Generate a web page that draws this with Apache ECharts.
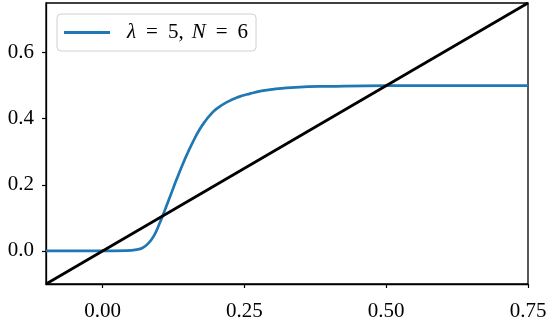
<!DOCTYPE html>
<html><head><meta charset="utf-8">
<script src="https://cdn.jsdelivr.net/npm/echarts@6/dist/echarts.min.js"></script>
<style>html,body{margin:0;padding:0;background:#fff}#c{width:550px;height:322px}</style>
</head><body><div id="c"></div>
<script>
const curveX = [-0.1, 0.0, 0.04, 0.06, 0.07, 0.08, 0.09, 0.10, 0.11, 0.12, 0.13, 0.14, 0.15, 0.16, 0.17, 0.18, 0.19, 0.20, 0.22, 0.24, 0.26, 0.28, 0.30, 0.34, 0.40, 0.50, 0.75];
const curveY = [0, 0, 0.001, 0.004, 0.009, 0.022, 0.045, 0.082, 0.125, 0.17, 0.215, 0.258, 0.297, 0.333, 0.365, 0.391, 0.412, 0.429, 0.451, 0.466, 0.476, 0.484, 0.489, 0.495, 0.498, 0.5, 0.5];
const diagX = [-0.1, 0.75];
const diagY = [-0.1, 0.75];
const xTicks = [0, 0.25, 0.5, 0.75];
const yTicks = [0, 0.2, 0.4, 0.6];
const seriesName = 'curve';

const font = 'Liberation Serif';
const fs = 21;
const chart = echarts.init(document.getElementById('c'), null, {renderer: 'canvas'});
const axisCommon = {
  axisLine: {show: true, onZero: false, lineStyle: {color: '#000', width: 1.3}},
  axisTick: {show: true, inside: false, length: 4, lineStyle: {color: '#000', width: 1.2}},
  splitLine: {show: false},
  axisLabel: {color: '#000', fontFamily: font, fontSize: fs}
};
chart.setOption({
  animation: false,
  grid: {left: 46, right: 22, top: 3, bottom: 37, show: true, borderColor: '#000', borderWidth: 1.3, backgroundColor: 'transparent'},
  legend: {
    left: 57, top: 14, orient: 'vertical',
    data: [seriesName],
    icon: 'rect', itemWidth: 46, itemHeight: 3, itemGap: 0,
    padding: [8, 8, 8, 7],
    backgroundColor: '#fff', borderColor: '#d0d0d0', borderWidth: 1, borderRadius: 4,
    formatter: function () { return '{i|λ}{e|=}5,{c|}{i|N}{e|=}6'; },
    textStyle: {color: '#000', fontFamily: font, fontSize: fs, padding: [0, 0, 0, 12],
      rich: {
        i: {fontFamily: font, fontStyle: 'italic', fontSize: fs, color: '#000'},
        e: {fontFamily: font, fontSize: fs, color: '#000', padding: [0, 10, 0, 10]},
        c: {fontFamily: font, fontSize: fs, color: '#000', padding: [0, 4, 0, 4]}
      }}
  },
  xAxis: Object.assign({}, axisCommon, {
    type: 'value', min: -0.1, max: 0.75,
    axisTick: Object.assign({}, axisCommon.axisTick, {customValues: xTicks}),
    axisLabel: Object.assign({}, axisCommon.axisLabel, {customValues: xTicks, margin: 17,
      formatter: v => v.toFixed(2)})
  }),
  yAxis: Object.assign({}, axisCommon, {
    type: 'value', min: -0.1, max: 0.75,
    axisTick: Object.assign({}, axisCommon.axisTick, {customValues: yTicks}),
    axisLabel: Object.assign({}, axisCommon.axisLabel, {customValues: yTicks, margin: 12,
      formatter: v => v.toFixed(1)})
  }),
  series: [
    {name: seriesName, type: 'line', data: curveX.map((x, i) => [x, curveY[i]]),
      showSymbol: false, smooth: 0.5,
      lineStyle: {color: '#1f77b4', width: 2.7}, itemStyle: {color: '#1f77b4'}, z: 2},
    {name: 'diag', type: 'line', data: diagX.map((x, i) => [x, diagY[i]]),
      showSymbol: false, lineStyle: {color: '#000', width: 2.7}, z: 3}
  ]
});
</script></body></html>
